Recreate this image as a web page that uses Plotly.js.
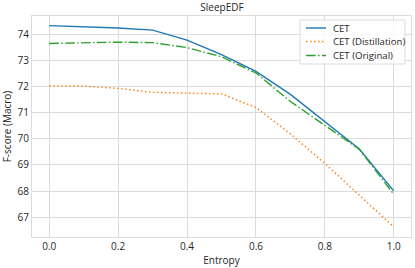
<!DOCTYPE html>
<html><head><meta charset="utf-8">
<script src="https://cdn.plot.ly/plotly-3.0.1.min.js"></script>
<style>html,body{margin:0;padding:0;background:#fff}#c{width:415px;height:268px}</style>
</head><body><div id="c"></div>
<script>
const entropy = [0.0,0.1,0.2,0.3,0.4,0.5,0.6,0.7,0.8,0.9,1.0];
const cet = [74.33,74.29,74.24,74.16,73.78,73.22,72.58,71.70,70.66,69.61,68.01];
const cetDistill = [72.03,72.02,71.93,71.78,71.75,71.72,71.20,70.19,69.06,67.83,66.63];
const cetOriginal = [73.65,73.68,73.70,73.68,73.49,73.14,72.52,71.43,70.52,69.60,67.88];
const seriesNames = ['CET','CET (Distillation)','CET (Original)'];
const xTicks = [0,0.2,0.4,0.6,0.8,1.0];
const xTickText = ['0.0','0.2','0.4','0.6','0.8','1.0'];
const yTicks = [67,68,69,70,71,72,73,74];

const FF = '"Open Sans", "Noto Sans", sans-serif';
const TC = '#262626';
const colors = ['#1f77b4','#ff7f0e','#2ca02c'];
const dashes = ['solid','1.5px,2.5px','9.6px,2.4px,1.5px,2.4px'];
const data = [cet,cetDistill,cetOriginal];
const traces = data.map((d,i)=>({x:entropy,y:d,name:seriesNames[i],mode:'lines',
  line:{color:colors[i],width:1.4,dash:dashes[i]},showlegend:false}));

// plot area in pixels
const W=415,H=268,L=32,R=4,T=16,B=31;
const pw=W-L-R, ph=H-T-B;
const px=x=>(x-L)/pw, py=y=>(H-B-y)/ph;

const shapes=[{type:'rect',xref:'paper',yref:'paper',x0:px(300),x1:px(405),y0:py(64),y1:py(20),
  line:{color:'#dcdcdc',width:1},fillcolor:'rgba(255,255,255,0.85)',layer:'above'}];
const annotations=[];
const rowY=[28,41.5,55.5];
seriesNames.forEach((n,i)=>{
  shapes.push({type:'line',xref:'paper',yref:'paper',x0:px(306),x1:px(326),y0:py(rowY[i]),y1:py(rowY[i]),
    line:{color:colors[i],width:1.4,dash:dashes[i]},layer:'above'});
  annotations.push({xref:'paper',yref:'paper',x:px(331),y:py(rowY[i]),xanchor:'left',yanchor:'middle',
    text:n,showarrow:false,font:{family:FF,size:9.6,color:TC}});
});

const layout = {
 width:W,height:H,
 margin:{l:L,r:R,t:T,b:B},
 paper_bgcolor:'#fff',plot_bgcolor:'#fff',
 font:{family:FF,size:10,color:TC},
 title:{text:'SleepEDF',x:0.535,xanchor:'center',y:0.985,yanchor:'top',font:{family:FF,size:10,color:TC}},
 xaxis:{range:[-0.05,1.05],tickvals:xTicks,ticktext:xTickText,showgrid:true,gridcolor:'#dcdcdc',gridwidth:1,
   zeroline:false,showline:true,mirror:true,linecolor:'#dcdcdc',ticks:'',
   title:{text:'Entropy',font:{family:FF,size:10,color:TC},standoff:4}},
 yaxis:{range:[66.245,74.70],tickvals:yTicks,showgrid:true,gridcolor:'#dcdcdc',gridwidth:1,
   zeroline:false,showline:true,mirror:true,linecolor:'#dcdcdc',ticks:'',
   title:{text:'F-score (Macro)',font:{family:FF,size:10,color:TC},standoff:6}},
 shapes:shapes,annotations:annotations,
 showlegend:false
};
Plotly.newPlot('c',traces,layout,{displayModeBar:false,staticPlot:true});
</script></body></html>
